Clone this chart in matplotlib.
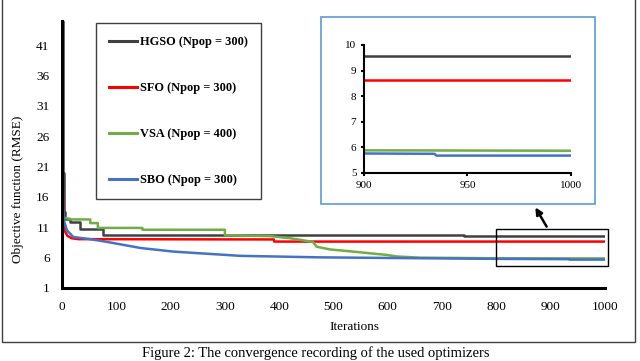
import matplotlib
matplotlib.use("Agg")
import matplotlib.pyplot as plt
from matplotlib.patches import Rectangle

plt.rcParams['font.family'] = ['Liberation Serif', 'DejaVu Serif']

# ------------------------
# Data
# ------------------------
hgso_it = [0, 1, 3, 6, 15, 33, 76, 740, 1000]
hgso_val = [45, 20, 13.5, 12.3, 11.8, 10.8, 9.8, 9.57, 9.57]

sfo_it = [0, 1, 3, 5, 10, 18, 30, 390, 391, 1000]
sfo_val = [40, 20, 12, 10.4, 9.6, 9.2, 9.05, 9.0, 8.65, 8.65]

# VSA: stair steps early on, then a gradual decline
vsa_it = [0, 2, 15, 15, 52, 52, 66, 66, 148, 148, 300, 300, 383, 420, 462,
          469, 494, 536, 598, 616, 659, 800, 1000]
vsa_val = [14.3, 12.6, 12.4, 12.3, 12.3, 11.7, 11.7, 10.9, 10.9, 10.6, 10.6,
           9.7, 9.55, 9.2, 8.6, 7.8, 7.35, 7.0, 6.45, 6.2, 6.0, 5.9, 5.87]

sbo_it = [0, 1, 2, 4, 9, 21, 52, 83, 144, 205, 328, 475, 600, 800, 934,
          935, 1000]
sbo_val = [43.5, 25, 14, 12, 10.5, 9.4, 9.05, 8.6, 7.6, 7.0, 6.3, 6.05,
           5.95, 5.8, 5.75, 5.68, 5.68]

labels = ["HGSO (Npop = 300)", "SFO (Npop = 300)",
          "VSA (Npop = 400)", "SBO (Npop = 300)"]
colors = ["#404040", "#FF0000", "#70AD47", "#4472C4"]

x_ticks = list(range(0, 1001, 100))
y_ticks = list(range(1, 42, 5))
inset_x_ticks = [900, 950, 1000]
inset_y_ticks = [5, 6, 7, 8, 9, 10]

series = [(hgso_it, hgso_val, 'steps-post'),
          (sfo_it, sfo_val, 'default'),
          (vsa_it, vsa_val, 'default'),
          (sbo_it, sbo_val, 'default')]

fig = plt.figure(figsize=(6.4, 3.61), dpi=100)

# outer frame
fig.patches.append(Rectangle((2 / 640, 1 - 342 / 361), 633 / 640, 1.0,
                             transform=fig.transFigure, fill=False,
                             edgecolor="#404040", lw=1.0))

# ------------------------
# Main axes
# ------------------------
ax = fig.add_axes([62 / 640, 1 - 288 / 361, 543 / 640, 267 / 361])
lines = []
for (it, val, ds), c, lab in zip(series, colors, labels):
    ln, = ax.plot(it, val, color=c, lw=1.8, drawstyle=ds, label=lab)
    lines.append(ln)
ax.set_xlim(0, 1000)
ax.set_ylim(1, 45)
ax.set_xticks(x_ticks)
ax.set_yticks(y_ticks)
ax.tick_params(length=0, labelsize=9.5, pad=9)
for s in ['top', 'right']:
    ax.spines[s].set_visible(False)
for s in ['left', 'bottom']:
    ax.spines[s].set_linewidth(2.2)

# zoom rectangle + arrow
ax.add_patch(Rectangle((800, 4.6), 205, 6.1, fill=False, edgecolor='black',
                       lw=1.0, clip_on=False, zorder=5))
ax.annotate("", xy=(534 / 640, 1 - 205 / 361), xycoords='figure fraction',
            xytext=(548 / 640, 1 - 229 / 361), textcoords='figure fraction',
            arrowprops=dict(arrowstyle='-|>', color='black', lw=1.8,
                            mutation_scale=10))

fig.text(18 / 640, 1 - 189 / 361, "Objective function (RMSE)", rotation=90,
         ha='center', va='center', fontsize=9.5)
fig.text(354 / 640, 1 - 327 / 361, "Iterations", ha='center', va='center',
         fontsize=9.5)

leg = fig.legend(handles=lines, loc='upper left',
                 bbox_to_anchor=(96 / 640, 1 - 23 / 361), borderaxespad=0,
                 fancybox=False, edgecolor='#404040', framealpha=1,
                 prop={'weight': 'bold', 'size': 8.9}, handlelength=2.3,
                 handletextpad=0.25, labelspacing=2.75, borderpad=1.05)
leg.get_frame().set_linewidth(1.0)
for h in leg.legend_handles:
    h.set_linewidth(2.2)

# ------------------------
# Inset
# ------------------------
fig.patches.append(Rectangle((321 / 640, 1 - 204 / 361), 274 / 640,
                             187 / 361, transform=fig.transFigure,
                             facecolor='white', edgecolor='#5B9BD5', lw=1.2,
                             zorder=3))
axin = fig.add_axes([364 / 640, 1 - 173 / 361, 207 / 640, 128 / 361],
                    zorder=4)
axin.patch.set_alpha(0)
for (it, val, ds), c in zip(series, colors):
    axin.plot(it, val, color=c, lw=1.8, drawstyle=ds)
axin.set_xlim(900, 1000)
axin.set_ylim(5, 10)
axin.set_xticks(inset_x_ticks)
axin.set_yticks(inset_y_ticks)
axin.tick_params(length=2.5, width=1.5, labelsize=8, pad=3)
for s in ['top', 'right']:
    axin.spines[s].set_visible(False)
for s in ['left', 'bottom']:
    axin.spines[s].set_linewidth(1.5)

fig.text(316 / 640, 1 - 346 / 361,
         "Figure 2: The convergence recording of the used optimizers",
         ha='center', va='top', fontsize=10.5)

fig.savefig("out.png", dpi=100)
